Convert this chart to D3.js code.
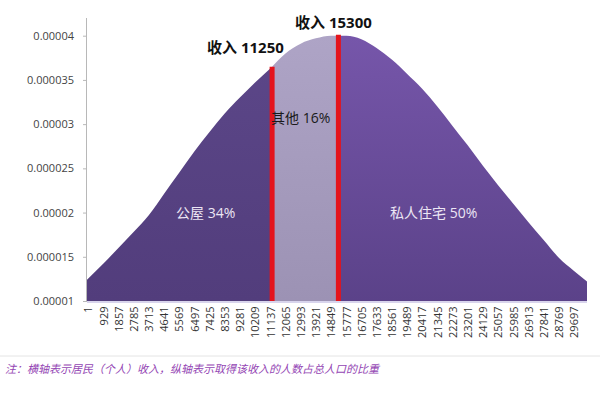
<!DOCTYPE html>
<html><head><meta charset="utf-8">
<script src="https://cdn.jsdelivr.net/npm/d3@7"></script>
<style>
html,body{margin:0;padding:0;background:#fff;}
svg{display:block;font-family:"Open Sans","Noto Sans CJK SC",sans-serif;}
</style></head>
<body>
<svg id="c" width="600" height="400"></svg>
<script>
// ---- data ----
const xLabels = [1,929,1857,2785,3713,4641,5569,6497,7425,8353,9281,10209,11137,12065,12993,13921,14849,15777,16705,17633,18561,19489,20417,21345,22273,23201,24129,25057,25985,26913,27841,28769,29697];
const incomes = [1,929,1857,2785,3713,4641,5569,6497,7425,8353,9281,10209,11137,12065,12993,13921,14849,15777,16705,17633,18561,19489,20417,21345,22273,23201,24129,25057,25985,26913,27841,28769,29697,30490];
const shares = [0.0000124,0.0000142,0.0000160,0.0000178,0.0000197,0.0000221,0.0000245,0.0000269,0.0000291,0.0000312,0.0000330,0.0000347,0.0000363,0.0000380,0.0000391,0.0000397,0.0000400,0.0000400,0.0000396,0.0000386,0.0000373,0.0000357,0.0000340,0.0000320,0.0000298,0.0000276,0.0000253,0.0000231,0.0000210,0.0000189,0.0000169,0.0000149,0.0000134,0.0000122];
const yTicks = [0.00001,0.000015,0.00002,0.000025,0.00003,0.000035,0.00004];
const yTickLabels = ["0.00001","0.000015","0.00002","0.000025","0.00003","0.000035","0.00004"];
const cutIncomes = [11250,15300];
const cutShares = [0.0000365,0.0000401];
const cutLabels = ["收入 11250","收入 15300"];
const segNames = ["公屋 34%","其他 16%","私人住宅 50%"];
const note = "注：横轴表示居民（个人）收入，纵轴表示取得该收入的人数占总人口的比重";

// ---- layout ----
const svg = d3.select("#c");
const L = 87, R = 587, T = 18, B = 301;
const x = d3.scaleLinear().domain([1, 30490]).range([L + 1, R]);
const y = d3.scaleLinear().domain([0.00001, 0.000042]).range([B, T]);

const defs = svg.append("defs");
function grad(id, c1, c2){
  const g = defs.append("linearGradient").attr("id", id).attr("x1",0).attr("y1",0).attr("x2",0).attr("y2",1);
  g.append("stop").attr("offset","0%").attr("stop-color",c1);
  g.append("stop").attr("offset","100%").attr("stop-color",c2);
}
grad("gL","#5c4789","#523d7c");
grad("gM","#aea4c6","#9c92b4");
grad("gR","#7656aa","#5b4289");

const bounds = [[1, cutIncomes[0]], [cutIncomes[0], cutIncomes[1]], [cutIncomes[1], 30490]];
const fills = ["url(#gL)","url(#gM)","url(#gR)"];
bounds.forEach((b,i)=>{
  defs.append("clipPath").attr("id","clip"+i).append("rect")
    .attr("x", i === 0 ? L : x(b[0])).attr("width", x(b[1]) - (i === 0 ? L : x(b[0]))).attr("y", 0).attr("height", 400);
});

const data = incomes.map((v,i)=>({x:v, y:shares[i]}));
const area = d3.area().x((d,i)=> i === 0 ? L : x(d.x)).y0(y(0.00001)).y1(d=>y(d.y)).curve(d3.curveMonotoneX);
bounds.forEach((b,i)=>{
  svg.append("path").datum(data).attr("d", area).attr("fill", fills[i]).attr("clip-path","url(#clip"+i+")");
});

// red cut lines
svg.selectAll("line.cut").data(cutIncomes).enter().append("line")
  .attr("class","cut")
  .attr("x1", d=>x(d)).attr("x2", d=>x(d))
  .attr("y1", y(0.00001)).attr("y2", (d,i)=>y(cutShares[i]))
  .attr("stroke","#e4141c").attr("stroke-width",5);

// y axis
const yAxis = d3.axisLeft(y).tickValues(yTicks).tickFormat((d,i)=>yTickLabels[i]).tickSize(4).tickPadding(9);
const gy = svg.append("g").attr("transform",`translate(${L},0)`).call(yAxis);
gy.select(".domain").attr("stroke","#b8b8b8").attr("d",`M-0.5,${T}V${B}`);
gy.selectAll(".tick line").attr("stroke","#b8b8b8");
gy.selectAll("text").attr("font-size",11).attr("fill","#444").attr("font-family","Open Sans");

// x axis
const xAxis = d3.axisBottom(x).tickValues(xLabels).tickFormat(d=>d).tickSize(0).tickPadding(4);
const gx = svg.append("g").attr("transform",`translate(0,${B})`).call(xAxis);
gx.select(".domain").attr("stroke","#d8d4ec").attr("stroke-width",2).attr("d",`M${L},1V1H${R}`);
gx.selectAll("text").attr("font-size",11).attr("fill","#333").attr("font-family","Open Sans")
  .attr("transform","rotate(-90)").attr("text-anchor","end").attr("dx","-0.5em").attr("dy","0.35em").attr("x",0).attr("y",0);

// labels
svg.append("text").attr("x", 207).attr("y", 53).text(cutLabels[0])
  .attr("font-size",15).attr("font-weight","bold").attr("fill","#111").attr("font-family","Open Sans, Noto Sans CJK SC");
svg.append("text").attr("x", 295).attr("y", 28).text(cutLabels[1])
  .attr("font-size",15).attr("font-weight","bold").attr("fill","#111").attr("font-family","Open Sans, Noto Sans CJK SC");
svg.append("text").attr("x", 271).attr("y", 123).text(segNames[1])
  .attr("font-size",14).attr("fill","#1a1a1a");
svg.append("text").attr("x", 176).attr("y", 218).text(segNames[0])
  .attr("font-size",14).attr("fill","#ece6f4");
svg.append("text").attr("x", 390).attr("y", 218).text(segNames[2])
  .attr("font-size",14).attr("fill","#ece6f4");

// separator & note
svg.append("line").attr("x1",0).attr("x2",600).attr("y1",356).attr("y2",356).attr("stroke","#e4e4e4").attr("stroke-width",1);
svg.append("text").attr("x",5).attr("y",373).text(note)
  .attr("font-size",11).attr("font-style","italic").attr("fill","#9446b4").attr("font-family","Noto Sans CJK SC");
</script>
</body></html>
